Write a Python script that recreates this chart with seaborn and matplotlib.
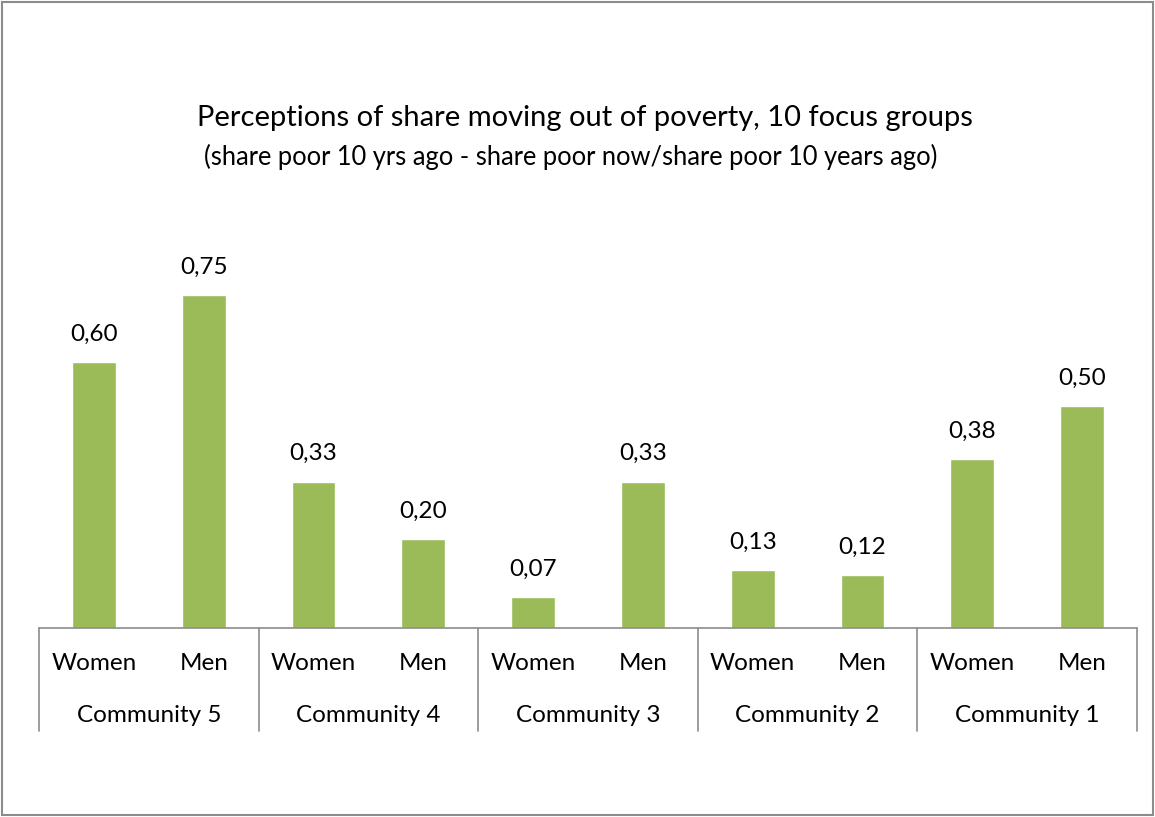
import matplotlib
matplotlib.use("Agg")
import matplotlib.pyplot as plt
import matplotlib.transforms as mtransforms
from matplotlib.patches import Rectangle
import seaborn as sns
import pandas as pd

communities = ["Community 5", "Community 4", "Community 3", "Community 2", "Community 1"]
genders = ["Women", "Men"]
values = [0.60, 0.75, 0.33, 0.20, 0.07, 0.33, 0.13, 0.12, 0.38, 0.50]
title = "Perceptions of share moving out of poverty, 10 focus groups"
subtitle = "(share poor 10 yrs ago - share poor now/share poor 10 years ago)"

rows = []
for ci, c in enumerate(communities):
    for gi, g in enumerate(genders):
        rows.append({"key": f"{c} {g}", "community": c, "gender": g,
                     "value": values[ci * 2 + gi]})
df = pd.DataFrame(rows)

sns.set_theme(style="white")
plt.rcParams["font.family"] = ["Lato", "DejaVu Sans"]

fig = plt.figure(figsize=(11.55, 8.17), dpi=100)
ax = fig.add_axes([39 / 1155, 1 - 628 / 817, (1137 - 39) / 1155, 355 / 817])

sns.barplot(data=df, x="key", y="value", color="#9BBB59", saturation=1,
            width=0.4, ax=ax, order=list(df["key"]))
ax.set_ylim(0, 0.8)
ax.set_xlim(-0.5, len(df) - 0.5)
for s in ["top", "right", "left"]:
    ax.spines[s].set_visible(False)
ax.spines["bottom"].set_color("#8c8c8c")
ax.spines["bottom"].set_linewidth(1.2)
ax.set_xticks([])
ax.set_yticks([])
ax.set_xlabel("")
ax.set_ylabel("")

for i, v in enumerate(df["value"]):
    ax.annotate(f"{v:.2f}".replace(".", ","), (i, v), xytext=(0, 20),
                textcoords="offset points", ha="center", va="center",
                fontsize=17.5, color="black")

trans = mtransforms.blended_transform_factory(ax.transData, ax.transAxes)
px = 1 / 355
for i, g in enumerate(df["gender"]):
    ax.text(i, -35 * px, g, transform=trans, ha="center", va="center",
            fontsize=17.5, color="black")
for ci, c in enumerate(communities):
    ax.text(ci * 2 + 0.5, -87 * px, c, transform=trans, ha="center", va="center",
            fontsize=17.5, color="black")
for b in range(len(communities) + 1):
    x = b * 2 - 0.5
    ax.plot([x, x], [0, -103 * px], transform=trans, color="#8c8c8c",
            lw=1.2, clip_on=False)

fig.text(585 / 1155, 1 - 118 / 817, title, ha="center", va="center",
         fontsize=21, color="black")
fig.text(571 / 1155, 1 - 157 / 817, subtitle, ha="center", va="center",
         fontsize=18.4, color="black")

fig.patches.append(Rectangle((0.002, 0.002), 0.996, 0.996, transform=fig.transFigure,
                             fill=False, edgecolor="#8c8c8c", lw=1.5))

fig.savefig("out.png", dpi=100, facecolor="white")
